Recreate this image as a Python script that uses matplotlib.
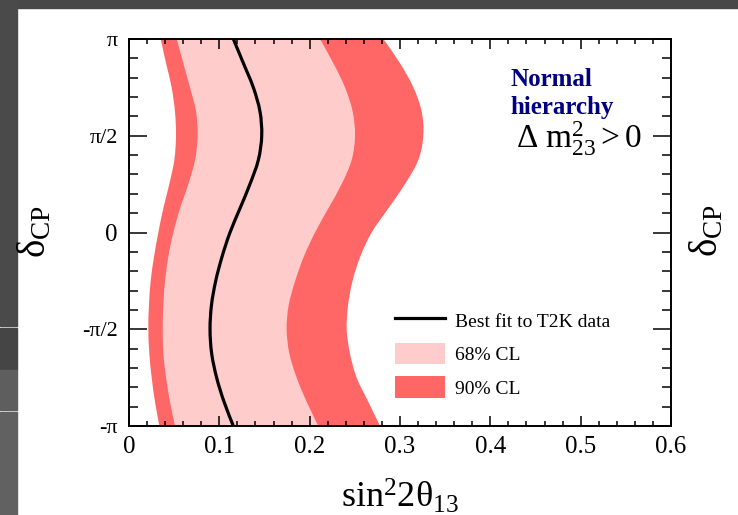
import numpy as np
import matplotlib.pyplot as plt
from matplotlib.patches import Patch, Rectangle, PathPatch
from matplotlib.path import Path
from matplotlib.lines import Line2D
from matplotlib.ticker import MultipleLocator

plt.rcParams['font.family'] = ['Liberation Serif', 'DejaVu Serif']
plt.rcParams['mathtext.fontset'] = 'custom'
plt.rcParams['mathtext.rm'] = 'Liberation Serif'
plt.rcParams['mathtext.it'] = 'Liberation Serif:italic'

# delta_CP from pi down to -pi in steps of pi/8
delta = np.pi * np.array([8, 7, 6, 5, 4, 3, 2, 1, 0, -1, -2, -3, -4, -5, -6, -7, -8]) / 8

best_fit = [0.1155, 0.1266, 0.1376, 0.1450, 0.1469, 0.1432, 0.1339, 0.1229, 0.1118,
            0.1030, 0.0960, 0.0913, 0.0897, 0.0915, 0.0970, 0.1052, 0.1155]
cl68_lo = [0.0528, 0.0601, 0.0675, 0.0742, 0.0760, 0.0731, 0.0657, 0.0565, 0.0491,
           0.0435, 0.0399, 0.0380, 0.0373, 0.0380, 0.0410, 0.0454, 0.0509]
cl68_hi = [0.2114, 0.2262, 0.2391, 0.2476, 0.2502, 0.2465, 0.2354, 0.2207, 0.2059,
           0.1935, 0.1840, 0.1768, 0.1745, 0.1775, 0.1856, 0.1967, 0.2096]
cl90_lo = [0.0351, 0.0410, 0.0472, 0.0509, 0.0520, 0.0502, 0.0446, 0.0380, 0.0325,
           0.0277, 0.0240, 0.0221, 0.0214, 0.0225, 0.0251, 0.0288, 0.0336]
cl90_hi = [0.2816, 0.3000, 0.3148, 0.3240, 0.3258, 0.3203, 0.3055, 0.2871, 0.2686,
           0.2560, 0.2475, 0.2425, 0.2410, 0.2446, 0.2520, 0.2649, 0.2779]

xtick_vals = [0, 0.1, 0.2, 0.3, 0.4, 0.5, 0.6]
xtick_labels = ['0', '0.1', '0.2', '0.3', '0.4', '0.5', '0.6']
ytick_vals = [-np.pi, -np.pi / 2, 0, np.pi / 2, np.pi]
ytick_labels = ['-π', '-π/2', '0', 'π/2', 'π']

W, H = 738, 515


def smooth(xs, ys, first=True):
    # smooth curve through the read points (catmull-rom drawn as bezier segments)
    p = np.column_stack([xs, ys])
    ext = np.vstack([p[0], p, p[-1]])
    verts = [p[0]] if first else []
    codes = [Path.MOVETO] if first else []
    for i in range(1, len(ext) - 2):
        c1 = ext[i] + (ext[i + 1] - ext[i - 1]) / 6
        c2 = ext[i + 1] - (ext[i + 2] - ext[i]) / 6
        verts += [c1, c2, ext[i + 1]]
        codes += [Path.CURVE4] * 3
    return verts, codes


def band(lo, hi):
    v1, c1 = smooth(lo, delta)
    v2, c2 = smooth(hi[::-1], delta[::-1], first=False)
    verts = v1 + [np.array([hi[-1], delta[-1]])] + v2 + [v1[0]]
    codes = c1 + [Path.LINETO] + c2 + [Path.CLOSEPOLY]
    return Path(verts, codes)


fig = plt.figure(figsize=(W / 100, H / 100), dpi=100)


def px_rect(x0, y0, w, h, c):
    fig.patches.append(Rectangle((x0 / W, 1 - (y0 + h) / H), w / W, h / H,
                                 transform=fig.transFigure, color=c, zorder=-5))

# slide background (screenshot border)
px_rect(0, 0, W, 8, '#484848')
px_rect(0, 0, 17, 326, '#4a4a4a')
px_rect(0, 328, 17, 42, '#454545')
px_rect(0, 370, 17, 40, '#5e5e5e')
px_rect(0, 412, 17, 103, '#616161')

ax = fig.add_axes([129 / W, 1 - 426 / H, 542 / W, 387 / H])

ax.add_patch(PathPatch(band(cl90_lo, cl90_hi), facecolor='#ff6666', lw=0))
ax.add_patch(PathPatch(band(cl68_lo, cl68_hi), facecolor='#ffcccc', lw=0))
bv, bc = smooth(best_fit, delta)
ax.add_patch(PathPatch(Path(bv, bc), facecolor='none', edgecolor='black', lw=2.3))

ax.set_xlim(0, 0.6)
ax.set_ylim(-np.pi, np.pi)
ax.set_xticks(xtick_vals)
ax.set_xticklabels(xtick_labels)
ax.xaxis.set_minor_locator(MultipleLocator(0.02))
ax.set_yticks(ytick_vals)
ax.set_yticklabels(ytick_labels)
ax.yaxis.set_minor_locator(MultipleLocator(np.pi / 10))

ax.tick_params(axis='both', which='both', direction='in', top=True, right=True, width=1.1)
ax.tick_params(axis='x', which='major', length=7.5, labelsize=18, pad=7)
ax.tick_params(axis='x', which='minor', length=3.7)
ax.tick_params(axis='y', which='major', length=13, labelsize=16, pad=8)
ax.tick_params(axis='y', which='minor', length=6.5)
for lab in ax.get_yticklabels():
    if lab.get_text() == '0':
        lab.set_fontsize(18)
for s in ax.spines.values():
    s.set_linewidth(1.4)

ax.set_xlabel(r'$\mathrm{sin^{2}2θ_{13}}$', fontsize=26, labelpad=14)
fig.text(35 / W, 1 - 232 / H, r'$\mathrm{δ_{CP}}$', fontsize=28, rotation=90,
         ha='center', va='center')
fig.text(707 / W, 1 - 231 / H, r'$\mathrm{δ_{CP}}$', fontsize=28, rotation=90,
         ha='center', va='center')

ax.text(0.703, 0.925, 'Normal\nhierarchy', transform=ax.transAxes, fontsize=18,
        fontweight='bold', color='#000080', va='top', ha='left', linespacing=1.3)
ax.text(0.714, 0.718, r'$\mathrm{\Delta\ m^{2}_{23} > 0}$', transform=ax.transAxes,
        fontsize=24, va='baseline', ha='left')

handles = [Line2D([], [], color='black', lw=2.3),
           Patch(facecolor='#ffcccc', edgecolor='none'),
           Patch(facecolor='#ff6666', edgecolor='none')]
labels = ['Best fit to T2K data', '68% CL', '90% CL']
ax.legend(handles, labels, loc='upper left', bbox_to_anchor=(0.49, 0.302),
          frameon=False, fontsize=14, handlelength=2.6, handleheight=1.35,
          handletextpad=0.5, labelspacing=0.6, borderpad=0, borderaxespad=0)

fig.savefig('out.png', dpi=100)
